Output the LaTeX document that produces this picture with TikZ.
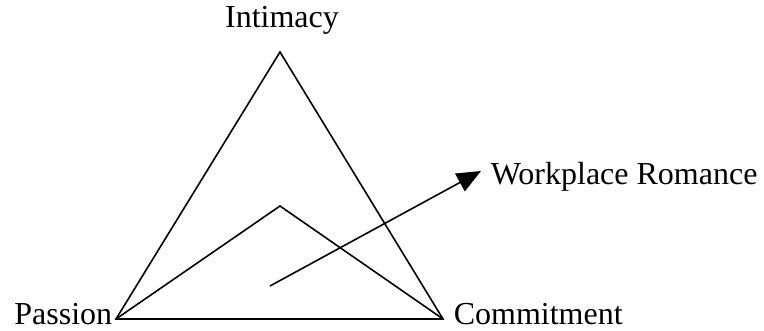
\documentclass[tikz,border=0pt]{standalone}
\usepackage{fontspec}
\setmainfont{Liberation Serif}
\usetikzlibrary{arrows.meta}

\begin{document}
\begin{tikzpicture}[x=1pt,y=1pt,line width=1.6pt,
  lbl/.style={inner sep=0pt,font=\fontsize{32}{36}\selectfont}]
\useasboundingbox (0,0) rectangle (764,330);
\coordinate (int) at (280,278);
\coordinate (pas) at (116,11);
\coordinate (com) at (443,11);
\coordinate (mid) at (280,124);
\coordinate (wrs) at (270,44);
\coordinate (wrt) at (481,159);
% triangle and inner profile
\draw (pas)--(int)--(com)--cycle;
\draw (pas)--(mid)--(com);
\draw[-{Triangle[length=24pt,width=20pt]}] (wrs)--(wrt);
\node[lbl,anchor=base] (intl) at (282,302) {Intimacy};
\node[lbl,anchor=base east] (pasl) at (113,6) {Passion};
\node[lbl,anchor=base west] (coml) at (453,6) {Commitment};
\node[lbl,anchor=base west] (wrl) at (490,146) {Workplace Romance};
\end{tikzpicture}
\end{document}
